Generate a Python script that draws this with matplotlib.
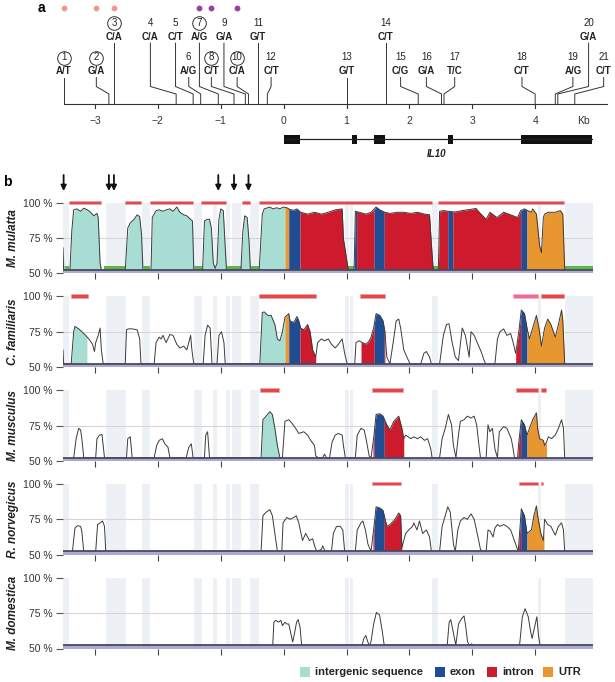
import numpy as np
import matplotlib
matplotlib.use('Agg')
import matplotlib.pyplot as plt
from matplotlib.patches import Rectangle

plt.rcParams['font.family'] = ['Liberation Sans', 'DejaVu Sans']

# ---------------- data ----------------
snp_ids = list(range(1, 22))
snp_alleles = ['A/T', 'G/A', 'C/A', 'C/A', 'C/T', 'A/G', 'A/G', 'C/T', 'G/A', 'C/A', 'G/T',
               'C/T', 'G/T', 'C/T', 'C/G', 'G/A', 'T/C', 'C/T', 'A/G', 'G/A', 'C/T']
snp_pos = [-3.50, -2.78, -2.70, -1.71, -1.44, -1.32, -1.04, -0.79, -0.61, -0.56, -0.41,
           -0.26, 1.00, 1.62, 2.14, 2.51, 2.55, 4.00, 4.32, 4.36, 4.63]
snp_circled = [1, 2, 3, 7, 8, 10]
snp_dot_salmon = [1, 2, 3]
snp_dot_purple = [7, 8, 10]
snp_upper = [3, 4, 5, 7, 9, 11, 14, 20]

kb_ticks = [-3, -2, -1, 0, 1, 2, 3, 4]
kb_labels = ['\u22123', '\u22122', '\u22121', '0', '1', '2', '3', '4']
exons = [(0.0, 0.26), (1.09, 1.16), (1.44, 1.61), (2.61, 2.69), (3.78, 4.91)]
gene_name = 'IL10'

annotation = [(-4.0, 0.02, 'intergenic'), (0.02, 0.08, 'UTR'), (0.08, 0.26, 'exon'),
              (0.26, 1.09, 'intron'), (1.09, 1.16, 'exon'), (1.16, 1.44, 'intron'),
              (1.44, 1.60, 'exon'), (1.60, 2.61, 'intron'), (2.61, 2.69, 'exon'),
              (2.69, 3.77, 'intron'), (3.77, 3.87, 'exon'), (3.87, 4.50, 'UTR'),
              (4.50, 5.50, 'intergenic')]

gray_bands = [(-3.51, -3.41), (-2.83, -2.51), (-2.26, -2.12), (-1.43, -1.30), (-1.12, -1.06),
              (-0.91, -0.86), (-0.82, -0.68), (-0.53, -0.39), (0.98, 1.04), (1.05, 1.11),
              (2.36, 2.46), (4.05, 4.09), (4.47, 4.92)]
green_gaps = [(-3.51, -3.41), (-2.85, -2.52), (-2.25, -2.12), (-1.43, -1.30), (-0.91, -0.68),
              (-0.53, -0.39), (1.03, 1.12), (2.37, 2.46), (4.47, 4.92)]

species = ['M. mulatta', 'C. familiaris', 'M. musculus', 'R. norvegicus', 'M. domestica']

mulatta = [(-3.51, 68), (-3.50, 50), (-3.40, 50), (-3.37, 80), (-3.34, 94.8), (-3.29, 95.5),
           (-3.23, 93.8), (-3.18, 96.0), (-3.12, 94.8), (-3.07, 93.1), (-3.02, 90.6), (-2.97, 92.3),
           (-2.95, 89.4), (-2.92, 57.2), (-2.90, 50),
           (-2.52, 50), (-2.48, 81.9), (-2.44, 85.6), (-2.38, 88.1), (-2.33, 91.3), (-2.29, 89.9),
           (-2.26, 77.0), (-2.24, 50),
           (-2.11, 50), (-2.09, 89.4), (-2.03, 94.3), (-1.98, 94.8), (-1.92, 93.8), (-1.87, 94.8),
           (-1.81, 95.5), (-1.76, 93.8), (-1.70, 96.8), (-1.65, 93.1), (-1.59, 91.3), (-1.54, 90.6),
           (-1.48, 88.1), (-1.45, 86.9), (-1.43, 50),
           (-1.29, 50), (-1.26, 86.9), (-1.22, 88.1), (-1.18, 88.1), (-1.15, 81.9), (-1.12, 57.2),
           (-1.09, 53.5), (-1.06, 57.2), (-1.03, 88.1), (-1.00, 95.5), (-0.96, 94.3), (-0.94, 77.0),
           (-0.91, 50),
           (-0.68, 50), (-0.65, 79.5), (-0.62, 90.6), (-0.58, 89.4), (-0.55, 72.0), (-0.53, 50),
           (-0.39, 50), (-0.34, 91.8), (-0.31, 95.5), (-0.22, 96.8), (-0.17, 95.5), (-0.11, 96.3),
           (-0.06, 95.5), (-0.01, 96.8), (0.05, 96.3), (0.10, 95.0), (0.16, 94.5), (0.21, 95.5),
           (0.27, 93.1), (0.38, 91.8), (0.49, 93.1), (0.60, 91.8), (0.71, 93.1), (0.82, 94.8),
           (0.93, 95.5), (0.95, 74.5), (1.01, 57.2), (1.03, 50),
           (1.12, 50), (1.14, 93.8), (1.20, 93.1), (1.31, 91.8), (1.39, 93.1), (1.47, 96.8),
           (1.53, 94.8), (1.61, 93.1), (1.69, 92.3), (1.80, 93.1), (1.91, 93.1), (2.02, 92.3),
           (2.13, 93.1), (2.24, 91.8), (2.32, 91.3), (2.35, 70), (2.38, 50),
           (2.46, 50), (2.48, 93.8), (2.54, 94.3), (2.62, 93.8), (2.73, 93.3), (2.84, 94.3),
           (2.95, 95.0), (3.06, 95.8), (3.11, 93.1), (3.22, 88.1), (3.28, 93.1), (3.39, 89.4),
           (3.50, 93.1), (3.61, 91.3), (3.72, 89.4), (3.77, 94.3), (3.83, 95.5), (3.88, 94.3),
           (3.94, 93.1), (3.96, 95.5), (4.02, 91.8), (4.07, 69.6), (4.10, 64.6), (4.13, 89.4),
           (4.15, 91.8), (4.21, 93.1), (4.32, 93.1), (4.40, 94.3), (4.44, 91.8), (4.47, 50)]

familiaris = [(-3.51, 62), (-3.50, 50), (-3.38, 50), (-3.34, 75), (-3.32, 78.8), (-3.26, 77.0),
              (-3.21, 75.0), (-3.15, 72.4), (-3.10, 69.9), (-3.04, 66.1), (-3.01, 61.0), (-2.99, 67.3),
              (-2.95, 72.4), (-2.92, 77.6), (-2.90, 62.2), (-2.87, 50),
              (-2.52, 50), (-2.50, 76.3), (-2.47, 77.0), (-2.41, 77.0), (-2.33, 76.3), (-2.29, 69.9),
              (-2.27, 50),
              (-2.06, 50), (-2.03, 67.3), (-1.98, 71.2), (-1.95, 69.9), (-1.92, 72.4), (-1.87, 67.3),
              (-1.81, 73.0), (-1.76, 72.4), (-1.70, 66.1), (-1.65, 63.5), (-1.59, 64.8), (-1.54, 62.2),
              (-1.48, 72.4), (-1.46, 62.2), (-1.43, 50),
              (-1.28, 50), (-1.25, 72.4), (-1.21, 79.6), (-1.17, 77.6), (-1.14, 50),
              (-1.06, 50), (-1.03, 72.4), (-0.99, 75.0), (-0.95, 67.3), (-0.93, 50),
              (-0.38, 50), (-0.34, 88.5), (-0.31, 89.0), (-0.25, 86.5), (-0.20, 86.5), (-0.14, 80.1),
              (-0.10, 69.9), (-0.06, 68.6), (-0.02, 75.0), (0.02, 85.2), (0.08, 87.8), (0.10, 82.7),
              (0.16, 81.4), (0.21, 85.7), (0.24, 82.7), (0.27, 77.6), (0.32, 76.3), (0.38, 80.1),
              (0.42, 75.0), (0.46, 62.2), (0.51, 57.1), (0.54, 67.3), (0.60, 69.9), (0.65, 68.6),
              (0.71, 69.9), (0.76, 66.1), (0.82, 63.5), (0.87, 66.1), (0.93, 69.9), (0.97, 59.7),
              (1.01, 50),
              (1.13, 50), (1.15, 67.3), (1.20, 68.6), (1.25, 67.3), (1.31, 66.1), (1.36, 68.6),
              (1.39, 71.2), (1.43, 77.6), (1.47, 87.8), (1.53, 86.5), (1.58, 82.7), (1.61, 75.0),
              (1.64, 57.1), (1.69, 50), (1.75, 69.9), (1.79, 82.7), (1.83, 83.9), (1.86, 77.6),
              (1.91, 62.2), (1.96, 57.1), (2.01, 50),
              (2.18, 50), (2.23, 59.7), (2.27, 61.0), (2.32, 57.1), (2.35, 50),
              (2.48, 50), (2.54, 72.4), (2.59, 80.1), (2.63, 80.6), (2.68, 67.3), (2.73, 57.1),
              (2.78, 54.6), (2.84, 77.6), (2.89, 72.4), (2.95, 57.1), (2.98, 75.0), (3.03, 72.4),
              (3.09, 66.1), (3.14, 61.0), (3.20, 53.3), (3.22, 50),
              (3.36, 50), (3.40, 69.9), (3.44, 75.0), (3.50, 77.0), (3.55, 72.4), (3.61, 73.7),
              (3.65, 67.3), (3.69, 59.7), (3.74, 75.0), (3.78, 90.3), (3.83, 87.8), (3.87, 77.6),
              (3.91, 69.9), (3.96, 77.6), (4.02, 86.5), (4.06, 77.6), (4.10, 64.8), (4.15, 77.6),
              (4.20, 83.9), (4.25, 80.1), (4.32, 71.2), (4.37, 80.1), (4.42, 90.3), (4.44, 82.7),
              (4.47, 50)]

musculus = [(-3.34, 50), (-3.30, 66), (-3.26, 73.0), (-3.23, 71.8), (-3.21, 65.7), (-3.18, 50),
            (-2.99, 50), (-2.97, 65.7), (-2.93, 68.2), (-2.89, 68.7), (-2.85, 50),
            (-2.50, 50), (-2.48, 65.7), (-2.44, 67.0), (-2.41, 50),
            (-2.06, 50), (-2.02, 60.9), (-1.98, 64.5), (-1.93, 65.7), (-1.89, 62.1), (-1.84, 59.6),
            (-1.81, 50),
            (-1.70, 50), (-1.65, 52.3), (-1.59, 50),
            (-1.55, 50), (-1.51, 59.6), (-1.47, 62.1), (-1.44, 50),
            (-1.26, 50), (-1.24, 68.2), (-1.21, 70.6), (-1.18, 50),
            (-0.36, 50), (-0.33, 79.1), (-0.28, 81.6), (-0.22, 84.8), (-0.18, 82.8), (-0.14, 73.0),
            (-0.10, 60.9), (-0.06, 50),
            (-0.02, 50), (0.02, 77.9), (0.08, 79.1), (0.13, 76.7), (0.19, 73.0), (0.24, 69.4),
            (0.32, 70.6), (0.38, 68.2), (0.43, 64.5), (0.49, 60.9), (0.51, 53.5), (0.55, 50),
            (0.62, 50), (0.65, 54.8), (0.68, 50),
            (0.73, 50), (0.77, 63.3), (0.82, 68.2), (0.87, 69.4), (0.93, 68.2), (0.95, 60.9),
            (0.98, 50),
            (1.14, 50), (1.17, 68.2), (1.23, 73.0), (1.28, 71.8), (1.31, 65.7), (1.36, 53.5),
            (1.39, 50), (1.43, 65.7), (1.47, 82.8), (1.53, 83.3), (1.58, 81.6), (1.64, 75.5),
            (1.69, 71.8), (1.75, 77.9), (1.83, 81.6), (1.88, 73.0), (1.91, 65.7), (1.94, 68.2),
            (2.02, 65.7), (2.07, 67.0), (2.13, 65.7), (2.18, 67.0), (2.24, 64.5), (2.29, 65.7),
            (2.34, 58.4), (2.36, 50),
            (2.48, 50), (2.52, 65.7), (2.57, 73.0), (2.62, 82.8), (2.67, 75.5), (2.70, 60.9),
            (2.74, 50), (2.78, 68.2), (2.81, 77.9), (2.87, 79.1), (2.92, 81.6), (2.98, 80.3),
            (3.03, 81.6), (3.07, 75.5), (3.10, 63.3), (3.13, 50),
            (3.22, 50), (3.25, 75.5), (3.28, 70.6), (3.32, 73.0), (3.36, 58.4), (3.40, 50),
            (3.43, 70.6), (3.50, 74.3), (3.55, 73.0), (3.62, 65.7), (3.65, 58.4), (3.67, 50),
            (3.72, 50), (3.74, 63.3), (3.78, 79.1), (3.83, 75.5), (3.87, 68.2), (3.91, 73.0),
            (3.96, 79.1), (4.02, 84.0), (4.04, 73.0), (4.07, 65.7), (4.13, 64.5), (4.15, 60.9),
            (4.18, 63.3), (4.21, 67.0), (4.26, 65.7), (4.32, 68.2), (4.37, 73.0), (4.42, 79.1),
            (4.45, 73.0), (4.47, 50)]

norvegicus = [(-3.36, 50), (-3.32, 68.8), (-3.28, 70.5), (-3.23, 70), (-3.21, 66.3), (-3.18, 50),
              (-2.99, 50), (-2.96, 71.3), (-2.92, 72.5), (-2.88, 73.8), (-2.85, 70), (-2.83, 50),
              (-0.36, 50), (-0.33, 77.5), (-0.28, 80), (-0.22, 81.8), (-0.18, 77.5), (-0.14, 65),
              (-0.10, 50),
              (-0.03, 50), (-0.01, 72.5), (0.05, 76.3), (0.10, 75), (0.16, 76.3), (0.20, 77.5),
              (0.24, 72.5), (0.30, 60), (0.35, 65), (0.41, 60), (0.46, 61.3), (0.50, 55), (0.53, 50),
              (0.60, 53.8), (0.62, 56.3), (0.66, 50),
              (0.76, 50), (0.79, 65), (0.84, 70), (0.90, 70), (0.94, 67.5), (0.97, 50),
              (1.14, 50), (1.17, 67.5), (1.23, 72.5), (1.26, 73.8), (1.30, 67.5), (1.34, 57.5),
              (1.39, 50), (1.43, 67.5), (1.47, 83.8), (1.53, 83), (1.58, 81.3), (1.64, 70),
              (1.69, 71.3), (1.77, 75), (1.83, 79.5), (1.86, 77.5), (1.88, 55), (1.94, 65),
              (1.99, 67.5), (2.05, 70), (2.07, 72.5), (2.12, 67.5), (2.16, 73.8), (2.21, 65),
              (2.27, 67.5), (2.32, 62.5), (2.35, 50),
              (2.48, 50), (2.52, 70), (2.57, 77.5), (2.61, 83.8), (2.65, 80), (2.70, 57.5),
              (2.73, 50), (2.77, 67.5), (2.81, 73.8), (2.87, 76.3), (2.92, 75), (2.98, 78.8),
              (3.03, 75), (3.09, 62.5), (3.13, 53.8), (3.16, 50),
              (3.22, 50), (3.25, 67.5), (3.29, 66.3), (3.33, 62.5), (3.36, 68.8), (3.40, 71.3),
              (3.44, 70), (3.50, 71.3), (3.55, 70), (3.61, 67.5), (3.65, 62.5), (3.69, 57.5),
              (3.73, 50), (3.74, 57.5), (3.78, 82.5), (3.83, 77.5), (3.87, 65), (3.94, 67.5),
              (3.98, 77.5), (4.02, 84.5), (4.04, 77.5), (4.09, 65), (4.13, 60), (4.15, 75),
              (4.20, 71.3), (4.25, 70), (4.32, 63.8), (4.37, 70), (4.42, 72.5), (4.45, 67.5),
              (4.47, 50)]

domestica = [(-0.174, 50), (-0.156, 68.6), (-0.124, 69.9), (-0.081, 68.6), (-0.044, 69.9),
             (-0.019, 66.1), (0.019, 68.6), (0.050, 67.3), (0.081, 67.3), (0.106, 62.2),
             (0.143, 54.6), (0.168, 59.7), (0.205, 68.6), (0.230, 70.4), (0.261, 64.8), (0.286, 50),
             (1.245, 50), (1.276, 57.1), (1.307, 59.2), (1.338, 54.6), (1.363, 50), (1.388, 54.6),
             (1.431, 67.3), (1.475, 75.5), (1.525, 73.7), (1.568, 62.2), (1.599, 50),
             (2.601, 50), (2.632, 68.6), (2.657, 70.4), (2.694, 62.2), (2.738, 52.0), (2.781, 67.3),
             (2.831, 71.2), (2.869, 73.0), (2.894, 66.1), (2.925, 54.6), (2.956, 50), (2.987, 53.3),
             (3.018, 52.0), (3.037, 50),
             (3.752, 50), (3.796, 72.4), (3.840, 78.1), (3.890, 72.4), (3.927, 62.2), (3.952, 57.1),
             (3.989, 64.8), (4.027, 72.4), (4.052, 59.7), (4.076, 50)]

curves = [mulatta, familiaris, musculus, norvegicus, domestica]

fill_spans = [[(-3.51, 4.47)],
              [(-3.40, -3.13), (-0.38, 0.51), (1.23, 1.61), (3.69, 4.47)],
              [(-0.36, -0.06), (1.42, 1.91), (3.72, 4.18)],
              [(1.42, 1.88), (3.73, 4.14)],
              []]

red_bars = [[(-3.41, -2.91), (-2.52, -2.27), (-2.13, -1.44), (-1.31, -0.91), (-0.67, -0.54),
             (-0.39, 2.36), (2.45, 4.46)],
            [(-3.38, -3.11), (-0.39, 0.51), (1.21, 1.61), (4.09, 4.46)],
            [(-0.38, -0.07), (1.41, 1.90), (3.70, 4.04), (4.09, 4.18)],
            [(1.41, 1.87), (3.74, 4.04), (4.09, 4.13)],
            []]
pink_bars = [[], [(3.65, 4.05)], [], [], []]

legend_items = ['intergenic sequence', 'exon', 'intron', 'UTR']

# ---------------- style / layout ----------------
colors = {'intergenic': '#a8ddd4', 'exon': '#1f4c93', 'intron': '#cd1b2d', 'UTR': '#e8962f'}
legend_keys = ['intergenic', 'exon', 'intron', 'UTR']
FIG_W, FIG_H = 615, 682
PX_L, PX_R = 63, 593
XMIN, XMAX = -3.51, 4.92
TXT = '#222222'

fig = plt.figure(figsize=(FIG_W / 100, FIG_H / 100), dpi=100)


def add_ax(x0, y0, w, h):
    return fig.add_axes([x0 / FIG_W, 1 - (y0 + h) / FIG_H, w / FIG_W, h / FIG_H])


# ---------------- panel a ----------------
axa = add_ax(PX_L, 0, PX_R - PX_L, 200)
axa.set_xlim(XMIN, XMAX)
axa.set_ylim(200, 0)
axa.axis('off')

AX_Y = 104.3
axa.plot([-3.50, 5.15], [AX_Y, AX_Y], color='#333', lw=0.8, clip_on=False)
for t, lab in zip(kb_ticks, kb_labels):
    axa.plot([t, t], [AX_Y, AX_Y + 4], color='#333', lw=0.8)
    axa.text(t, 120.5, lab, ha='center', va='center', fontsize=7.5, color='#333')
axa.text(4.76, 120.5, 'Kb', ha='center', va='center', fontsize=7.5, color='#333')

snp_label_x = [-3.50, -2.98, -2.70, -2.12, -1.72, -1.51, -1.34, -1.15, -0.95, -0.74, -0.41,
               -0.20, 1.00, 1.62, 1.86, 2.27, 2.72, 3.79, 4.60, 4.85, 5.09]
for i, sid in enumerate(snp_ids):
    xs, xl = snp_pos[i], snp_label_x[i]
    upper = sid in snp_upper
    y_num = 22.7 if upper else 57.3
    y_all = 36.7 if upper else 71.0
    y0 = y_all + 6.5
    if abs(xs - xl) < 0.03:
        xx, yy = [xs, xs], [y0, AX_Y]
    else:
        xx, yy = [xl, xl, xs, xs], [y0, 86.5, 94, AX_Y]
    axa.plot(xx, yy, color='#333', lw=0.7, clip_on=False)
    axa.text(xl, y_num, str(sid), ha='center', va='center', fontsize=7, color=TXT, clip_on=False)
    axa.text(xl, y_all, snp_alleles[i], ha='center', va='center', fontsize=7,
             fontweight='bold', color=TXT, clip_on=False)
    if sid in snp_circled:
        axa.plot(xl, y_num + 0.3, 'o', ms=9.8, mfc='none', mec='#333', mew=0.7, clip_on=False)
    if sid in snp_dot_salmon:
        axa.plot(xl, 7.5, 'o', ms=4.2, color='#f29a86', mec='none', clip_on=False)
    if sid in snp_dot_purple:
        axa.plot(xl, 7.5, 'o', ms=4.2, color='#9c3f9e', mec='none', clip_on=False)

# gene model
axa.plot([0, exons[-1][1]], [139, 139], color='#222', lw=0.9)
for s, e in exons:
    axa.add_patch(Rectangle((s, 134.5), e - s, 9.5, fc='#111', ec='none'))
axa.text(2.43, 154, gene_name, ha='center', va='center', fontsize=7,
         fontweight='bold', fontstyle='italic', color=TXT)

# arrows for circled SNPs
for sid in snp_circled:
    x = snp_pos[sid - 1]
    axa.annotate('', xy=(x, 191), xytext=(x, 175),
                 arrowprops=dict(arrowstyle='-|>', color='#111', lw=1.3, mutation_scale=8,
                                 shrinkA=0, shrinkB=0))

fig.text(41 / FIG_W, 1 - 8 / FIG_H, 'a', fontsize=10, fontweight='bold', ha='center', va='center')
fig.text(7 / FIG_W, 1 - 182 / FIG_H, 'b', fontsize=10, fontweight='bold', ha='center', va='center')

# ---------------- panel b ----------------
row_tops = [202.5, 296.3, 390.1, 483.9, 577.7]
ROW_H = 70.8
BASE = 52.3
for r, name in enumerate(species):
    ax = add_ax(PX_L, row_tops[r], PX_R - PX_L, ROW_H)
    ax.set_xlim(XMIN, XMAX)
    ax.set_ylim(50, 100)
    for s, e in gray_bands:
        ax.add_patch(Rectangle((s, BASE), e - s, 100 - BASE, fc='#edf0f5', ec='none', zorder=0))
    ax.axhline(75, color='#d6d6d6', lw=0.8, zorder=0.5)
    if r == 0:
        for s, e in green_gaps:
            ax.add_patch(Rectangle((s, BASE), e - s, 2.8, fc='#5cb846', ec='none', zorder=1))
    data = np.array(curves[r], dtype=float)
    cx, cy = data[:, 0], data[:, 1]
    for s, e in fill_spans[r]:
        for a0, a1, kind in annotation:
            lo, hi = max(s, a0), min(e, a1)
            if hi <= lo:
                continue
            xs = np.linspace(lo, hi, 150)
            ys = np.maximum(np.interp(xs, cx, cy), BASE)
            ax.fill_between(xs, BASE, ys, color=colors[kind], lw=0, zorder=2)
    ax.plot(cx, np.maximum(cy, BASE), color='#3a3a3a', lw=0.7, zorder=3)
    ax.add_patch(Rectangle((XMIN, 50), XMAX - XMIN, BASE - 50, fc='#aba9d6', ec='none', zorder=4))
    ax.axhline(BASE, color='#4a4a5a', lw=1.3, zorder=5)
    for s, e in red_bars[r]:
        ax.add_patch(Rectangle((s, 98.9), e - s, 2.4, fc='#e2474d', ec='#f0a0a0', lw=0.4,
                               clip_on=False, zorder=6))
    for s, e in pink_bars[r]:
        ax.add_patch(Rectangle((s, 98.9), e - s, 2.4, fc='#f06b93', ec='#f6b0c4', lw=0.4,
                               clip_on=False, zorder=6))
    for sp in ax.spines.values():
        sp.set_visible(False)
    ax.set_yticks([50, 75, 100])
    ax.set_yticklabels(['50 %', '75 %', '100 %'], fontsize=7.5, color='#333')
    ax.tick_params(axis='y', length=5, width=0.8, color='#555', pad=2.5)
    ax.set_xticks(kb_ticks)
    ax.tick_params(axis='x', length=4.5, width=0.8, color='#444', labelbottom=False)
    ax.text(-0.095, 0.5, name, transform=ax.transAxes, rotation=90, ha='center', va='center',
            fontsize=8.5, fontweight='bold', fontstyle='italic', color=TXT)

# ---------------- legend ----------------
leg_sq_x = [300, 435, 487, 543]
LEG_Y = 672
for key, label, x0 in zip(legend_keys, legend_items, leg_sq_x):
    fig.patches.append(Rectangle((x0 / FIG_W, 1 - (LEG_Y + 5) / FIG_H), 10 / FIG_W, 10 / FIG_H,
                                 fc=colors[key], ec='none', transform=fig.transFigure))
    fig.text((x0 + 15) / FIG_W, 1 - LEG_Y / FIG_H, label, fontsize=8, fontweight='bold',
             ha='left', va='center', color=TXT)

fig.savefig('out.png', dpi=100)
